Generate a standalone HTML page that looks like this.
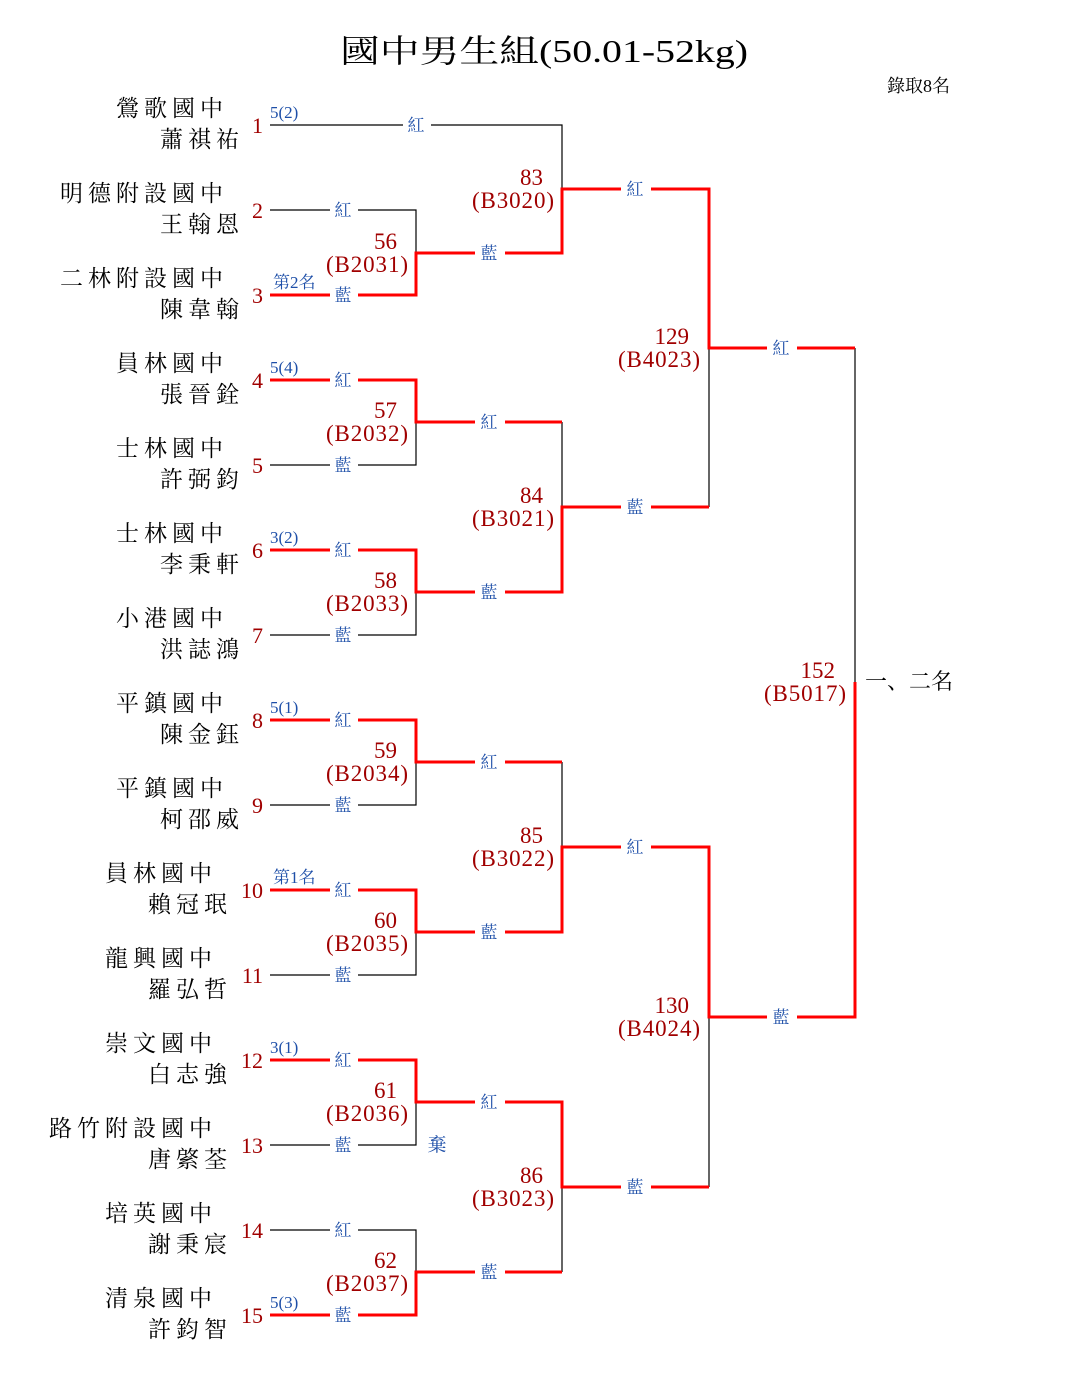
<!DOCTYPE html>
<html><head><meta charset="utf-8"><style>
html,body{margin:0;padding:0;background:#fff;}
svg{display:block;}
.nm{font-family:"Liberation Serif","Noto Serif CJK SC",serif;font-size:23px;fill:#000;letter-spacing:5px;}
.pn{font-family:"Liberation Serif","Noto Serif CJK SC",serif;font-size:22px;fill:#a00000;}
.sd{font-family:"Liberation Serif","Noto Serif CJK SC",serif;font-size:17px;fill:#1e4fa8;}
.lb{font-family:"Liberation Serif","Noto Serif CJK SC",serif;font-size:17px;fill:#1e4fa8;text-anchor:middle;}
.mn{font-family:"Liberation Serif","Noto Serif CJK SC",serif;font-size:23px;fill:#a00000;text-anchor:end;}
.k{stroke:#000;stroke-width:1.2;fill:none;}
.r{stroke:#ff0000;stroke-width:3;fill:none;}
</style></head><body>
<svg width="1085" height="1400" xmlns="http://www.w3.org/2000/svg">
<text x="340" y="62" textLength="408" lengthAdjust="spacingAndGlyphs" style="font-family:'Liberation Serif','Noto Serif CJK SC',serif;font-size:32px">國中男生組(50.01-52kg)</text>
<text x="887" y="92" style="font-family:'Liberation Serif','Noto Serif CJK SC',serif;font-size:18px">錄取8名</text>

<path class="k" d="M270 125H562V189"/>
<path class="k" d="M270 210H416V253"/>
<path class="k" d="M270 465H416V422"/>
<path class="k" d="M270 635H416V592"/>
<path class="k" d="M270 805H416V762"/>
<path class="k" d="M270 975H416V932"/>
<path class="k" d="M270 1145H416V1102"/>
<path class="k" d="M270 1230H416V1272"/>
<path class="k" d="M562 422V507"/>
<path class="k" d="M562 762V847"/>
<path class="k" d="M562 1272V1187"/>
<path class="k" d="M709 507V348"/>
<path class="k" d="M709 1187V1017"/>
<path class="k" d="M855 348V682"/>
<path class="r" d="M270 295H416V253H562V189H709V348H855"/>
<path class="r" d="M270 380H416V422H562"/>
<path class="r" d="M270 550H416V592H562V507H709"/>
<path class="r" d="M270 720H416V762H562"/>
<path class="r" d="M270 890H416V932H562V847H709V1017H855V682"/>
<path class="r" d="M270 1060H416V1102H562V1187H709"/>
<path class="r" d="M270 1315H416V1272H562"/>

<g fill="#fff">
<rect x="403" y="113" width="28" height="24"/>
<rect x="330" y="198" width="28" height="24"/><rect x="330" y="283" width="28" height="24"/>
<rect x="330" y="368" width="28" height="24"/><rect x="330" y="453" width="28" height="24"/>
<rect x="330" y="538" width="28" height="24"/><rect x="330" y="623" width="28" height="24"/>
<rect x="330" y="708" width="28" height="24"/><rect x="330" y="793" width="28" height="24"/>
<rect x="330" y="878" width="28" height="24"/><rect x="330" y="963" width="28" height="24"/>
<rect x="330" y="1048" width="28" height="24"/><rect x="330" y="1133" width="28" height="24"/>
<rect x="330" y="1218" width="28" height="24"/><rect x="330" y="1303" width="28" height="24"/>
<rect x="475" y="241" width="30" height="24"/><rect x="475" y="410" width="30" height="24"/>
<rect x="475" y="580" width="30" height="24"/><rect x="475" y="750" width="30" height="24"/>
<rect x="475" y="920" width="30" height="24"/><rect x="475" y="1090" width="30" height="24"/>
<rect x="475" y="1260" width="30" height="24"/>
<rect x="621" y="177" width="30" height="24"/><rect x="621" y="495" width="30" height="24"/>
<rect x="621" y="835" width="30" height="24"/><rect x="621" y="1175" width="30" height="24"/>
<rect x="767" y="336" width="30" height="24"/><rect x="767" y="1005" width="30" height="24"/>
</g>
<g class="lb">
<text x="416" y="131">紅</text>
<text x="343" y="216">紅</text><text x="343" y="301">藍</text>
<text x="343" y="386">紅</text><text x="343" y="471">藍</text>
<text x="343" y="556">紅</text><text x="343" y="641">藍</text>
<text x="343" y="726">紅</text><text x="343" y="811">藍</text>
<text x="343" y="896">紅</text><text x="343" y="981">藍</text>
<text x="343" y="1066">紅</text><text x="343" y="1151">藍</text>
<text x="343" y="1236">紅</text><text x="343" y="1321">藍</text>
<text x="489" y="259">藍</text><text x="489" y="428">紅</text>
<text x="489" y="598">藍</text><text x="489" y="768">紅</text>
<text x="489" y="938">藍</text><text x="489" y="1108">紅</text>
<text x="489" y="1278">藍</text>
<text x="635" y="195">紅</text><text x="635" y="513">藍</text>
<text x="635" y="853">紅</text><text x="635" y="1193">藍</text>
<text x="781" y="354">紅</text><text x="781" y="1023">藍</text>
<text x="437" y="1151" style="font-size:19px">棄</text>
</g>

<g class="mn">
<text x="397" y="249">56</text><text x="408" y="272" textLength="82" lengthAdjust="spacing">(B2031)</text>
<text x="397" y="418">57</text><text x="408" y="441" textLength="82" lengthAdjust="spacing">(B2032)</text>
<text x="397" y="588">58</text><text x="408" y="611" textLength="82" lengthAdjust="spacing">(B2033)</text>
<text x="397" y="758">59</text><text x="408" y="781" textLength="82" lengthAdjust="spacing">(B2034)</text>
<text x="397" y="928">60</text><text x="408" y="951" textLength="82" lengthAdjust="spacing">(B2035)</text>
<text x="397" y="1098">61</text><text x="408" y="1121" textLength="82" lengthAdjust="spacing">(B2036)</text>
<text x="397" y="1268">62</text><text x="408" y="1291" textLength="82" lengthAdjust="spacing">(B2037)</text>
<text x="543" y="185">83</text><text x="554" y="208" textLength="82" lengthAdjust="spacing">(B3020)</text>
<text x="543" y="503">84</text><text x="554" y="526" textLength="82" lengthAdjust="spacing">(B3021)</text>
<text x="543" y="843">85</text><text x="554" y="866" textLength="82" lengthAdjust="spacing">(B3022)</text>
<text x="543" y="1183">86</text><text x="554" y="1206" textLength="82" lengthAdjust="spacing">(B3023)</text>
<text x="689" y="344">129</text><text x="700" y="367" textLength="82" lengthAdjust="spacing">(B4023)</text>
<text x="689" y="1013">130</text><text x="700" y="1036" textLength="82" lengthAdjust="spacing">(B4024)</text>
<text x="835" y="678">152</text><text x="846" y="701" textLength="82" lengthAdjust="spacing">(B5017)</text>
</g>
<text x="865" y="689" style="font-family:'Liberation Serif','Noto Serif CJK SC',serif;font-size:22px">一、二名</text>

<g class="sd">
<text x="270" y="118">5(2)</text>
<text x="273" y="288">第2名</text>
<text x="270" y="373">5(4)</text>
<text x="270" y="543">3(2)</text>
<text x="270" y="713">5(1)</text>
<text x="273" y="883">第1名</text>
<text x="270" y="1053">3(1)</text>
<text x="270" y="1308">5(3)</text>
</g>

<g class="pn" text-anchor="end">
<text x="263" y="133">1</text><text x="263" y="218">2</text><text x="263" y="303">3</text>
<text x="263" y="388">4</text><text x="263" y="473">5</text><text x="263" y="558">6</text>
<text x="263" y="643">7</text><text x="263" y="728">8</text><text x="263" y="813">9</text>
<text x="263" y="898">10</text><text x="263" y="983">11</text><text x="263" y="1068">12</text>
<text x="263" y="1153">13</text><text x="263" y="1238">14</text><text x="263" y="1323">15</text>
</g>

<g class="nm" text-anchor="end">
<text x="228" y="116">鶯歌國中</text><text x="244" y="147">蕭祺祐</text>
<text x="228" y="201">明德附設國中</text><text x="244" y="232">王翰恩</text>
<text x="228" y="286">二林附設國中</text><text x="244" y="317">陳韋翰</text>
<text x="228" y="371">員林國中</text><text x="244" y="402">張晉銓</text>
<text x="228" y="456">士林國中</text><text x="244" y="487">許弼鈞</text>
<text x="228" y="541">士林國中</text><text x="244" y="572">李秉軒</text>
<text x="228" y="626">小港國中</text><text x="244" y="657">洪誌鴻</text>
<text x="228" y="711">平鎮國中</text><text x="244" y="742">陳金鈺</text>
<text x="228" y="796">平鎮國中</text><text x="244" y="827">柯邵威</text>
<text x="217" y="881">員林國中</text><text x="232" y="912">賴冠珉</text>
<text x="217" y="966">龍興國中</text><text x="232" y="997">羅弘哲</text>
<text x="217" y="1051">崇文國中</text><text x="232" y="1082">白志強</text>
<text x="217" y="1136">路竹附設國中</text><text x="232" y="1167">唐綮荃</text>
<text x="217" y="1221">培英國中</text><text x="232" y="1252">謝秉宸</text>
<text x="217" y="1306">清泉國中</text><text x="232" y="1337">許鈞智</text>
</g>
</svg>
</body></html>
